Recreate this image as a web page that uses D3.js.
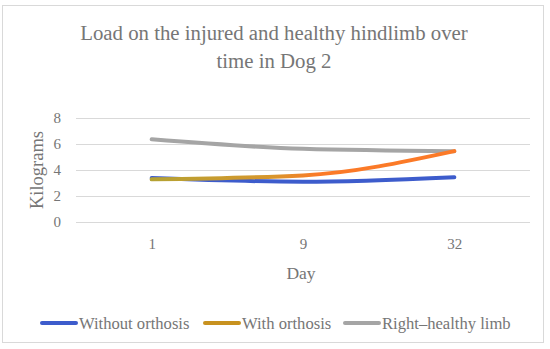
<!DOCTYPE html>
<html>
<head>
<meta charset="utf-8">
<script src="https://cdn.jsdelivr.net/npm/d3@7"></script>
<style>
  html, body { margin: 0; padding: 0; background: #fff; }
  svg text { font-family: "Liberation Serif", "DejaVu Serif", serif; fill: #767676; }
</style>
</head>
<body>
<svg id="chart" width="550" height="349"></svg>
<script>
const days = ["1", "9", "32"];
const withoutOrthosis = [3.38, 3.1, 3.45];
const withOrthosis = [3.28, 3.58, 5.45];
const healthyLimb = [6.36, 5.63, 5.45];
const yTicks = [0, 2, 4, 6, 8];
const titleLines = ["Load on the injured and healthy hindlimb over", "time in Dog 2"];
const seriesNames = ["Without orthosis", "With orthosis", "Right\u2013healthy limb"];

const svg = d3.select("#chart");

// frame
svg.append("rect").attr("x", 2.5).attr("y", 5.5).attr("width", 541).attr("height", 337)
  .attr("fill", "#fff").attr("stroke", "#d9d9d9").attr("stroke-width", 1);

const plot = { left: 76, right: 530, top: 118, bottom: 222 };
const x = d3.scalePoint().domain(days).range([plot.left, plot.right]).padding(0.5);
const y = d3.scaleLinear().domain([0, 8]).range([plot.bottom, plot.top]);

// title
svg.append("g").selectAll("text").data(titleLines).join("text")
  .attr("x", 274).attr("y", (d, i) => 39.5 + i * 28)
  .attr("text-anchor", "middle").attr("font-size", 20.8).text(d => d);

// gridlines + y axis
const yAxis = d3.axisLeft(y).tickValues(yTicks).tickSize(-(plot.right - plot.left)).tickPadding(15);
const gy = svg.append("g").attr("transform", `translate(${plot.left},0)`).call(yAxis);
gy.select(".domain").remove();
gy.selectAll(".tick line").attr("stroke", "#d9d9d9").attr("stroke-width", 1);
gy.selectAll(".tick text").attr("font-size", 15).attr("fill", "#767676")
  .attr("font-family", "Liberation Serif, serif");

// x axis
const xAxis = d3.axisBottom(x).tickSize(0).tickPadding(16);
const gx = svg.append("g").attr("transform", `translate(0,${plot.bottom})`).call(xAxis);
gx.select(".domain").remove();
gx.selectAll(".tick text").attr("font-size", 15).attr("fill", "#767676")
  .attr("font-family", "Liberation Serif, serif");

// axis titles
svg.append("text").attr("transform", "translate(43,170) rotate(-90)")
  .attr("text-anchor", "middle").attr("font-size", 18.5).text("Kilograms");
svg.append("text").attr("x", 301).attr("y", 279)
  .attr("text-anchor", "middle").attr("font-size", 17.5).text("Day");

// gradient for "with orthosis"
const defs = svg.append("defs");
const grad = defs.append("linearGradient").attr("id", "orthoGrad")
  .attr("gradientUnits", "userSpaceOnUse")
  .attr("x1", x(days[0])).attr("x2", x(days[2])).attr("y1", 0).attr("y2", 0);
grad.append("stop").attr("offset", "0%").attr("stop-color", "#b4a233");
grad.append("stop").attr("offset", "40%").attr("stop-color", "#d8962c");
grad.append("stop").attr("offset", "55%").attr("stop-color", "#fb7a28");
grad.append("stop").attr("offset", "100%").attr("stop-color", "#fb7a28");

const series = [
  { name: seriesNames[0], values: withoutOrthosis, color: "#3d5ccc", legend: "#3d5ccc" },
  { name: seriesNames[1], values: withOrthosis, color: "url(#orthoGrad)", legend: "#c8921f" },
  { name: seriesNames[2], values: healthyLimb, color: "#a5a5a5", legend: "#a5a5a5" }
];

const line = d3.line().x((d, i) => x(days[i])).y(d => y(d)).curve(d3.curveMonotoneX);
const drawOrder = [series[2], series[0], series[1]];
svg.append("g").selectAll("path").data(drawOrder).join("path")
  .attr("d", d => line(d.values)).attr("fill", "none")
  .attr("stroke", d => d.color).attr("stroke-width", 4).attr("stroke-linecap", "round");

// legend
const legendX = [42, 205, 345];
const lg = svg.append("g").selectAll("g").data(series).join("g")
  .attr("transform", (d, i) => `translate(${legendX[i]},323)`);
lg.append("line").attr("x1", 0).attr("x2", 34).attr("y1", 0).attr("y2", 0)
  .attr("stroke", d => d.legend).attr("stroke-width", 4).attr("stroke-linecap", "round");
lg.append("text").attr("x", 37).attr("y", 5.5).attr("font-size", 16.6).text(d => d.name);
</script>
</body>
</html>
